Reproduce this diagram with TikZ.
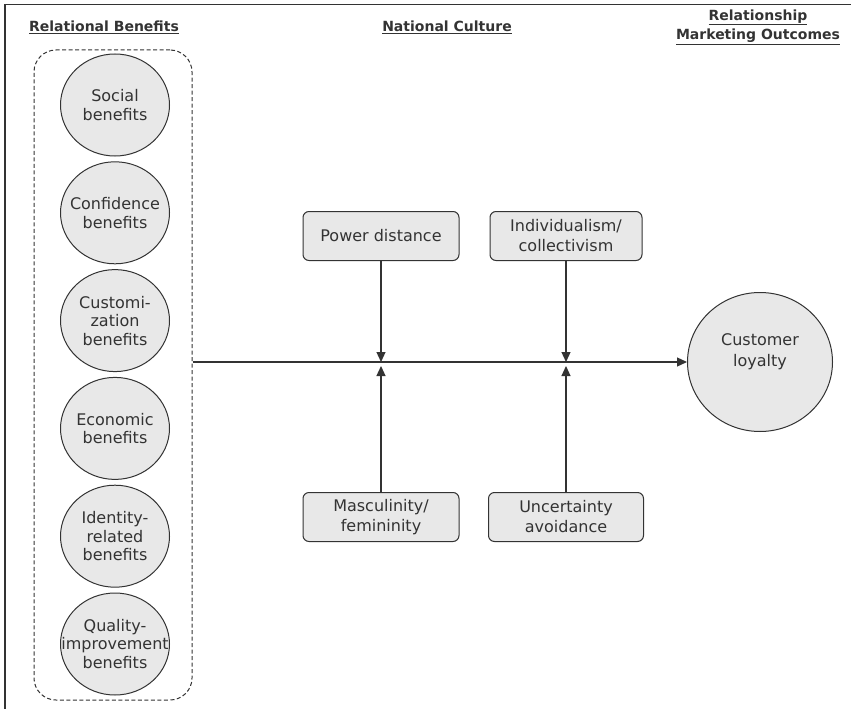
\documentclass[tikz,border=0pt]{standalone}
\usepackage{fontspec}
\setmainfont{DejaVu Sans}
\usetikzlibrary{shapes.geometric,arrows.meta}
\definecolor{boxfill}{HTML}{E8E8E8}
\definecolor{ink}{HTML}{333333}
\begin{document}
\begin{tikzpicture}[x=1pt,y=1pt,>={Triangle[length=10pt,width=9pt]}]
\tikzstyle{benefit}=[draw=ink,line width=1pt,ellipse,fill=boxfill,minimum width=109pt,minimum height=102pt,inner xsep=-22pt,inner ysep=0pt,align=center,text=ink,font=\fontsize{16}{18.5}\selectfont]
\tikzstyle{culture}=[draw=ink,line width=1pt,rounded corners=6pt,fill=boxfill,minimum width=156pt,minimum height=49pt,align=center,text=ink,font=\fontsize{16}{20}\selectfont]
\tikzstyle{head}=[align=center,text=ink,font=\fontsize{14}{19}\selectfont\bfseries]
\tikzstyle{link}=[->,line width=1.2pt,ink]
\def\d{107.8}
\useasboundingbox (0,0) rectangle (851,-709);
\draw[line width=1.5pt,ink] (5,-709) -- (5,-4.5) -- (851,-4.5);
% headings
\draw (104,-27) node[head] (h1) {\underline{Relational Benefits}};
\draw (447,-27) node[head] (h2) {\underline{National Culture}};
\draw (758,-27) node[head] (h3) {\underline{Relationship}\\\underline{Marketing Outcomes}};
% relational benefits
\draw (113,-375) node[draw=ink,line width=1pt,dash pattern=on 4pt off 2.5pt,rounded corners=22pt,minimum width=158pt,minimum height=650pt] (rb) {};
\draw (115,-105-0*\d) node[benefit] (b1) {Social\\benefits};
\draw (115,-105-1*\d) node[benefit] (b2) {Confidence\\benefits};
\draw (115,-105-2*\d) node[benefit] (b3) {Customi-\\zation\\benefits};
\draw (115,-105-3*\d) node[benefit] (b4) {Economic\\benefits};
\draw (115,-105-4*\d) node[benefit] (b5) {Identity-\\related\\benefits};
\draw (115,-105-5*\d) node[benefit] (b6) {Quality-\\improvement\\benefits};
% outcome
\draw (760,-362) node[benefit,minimum width=145pt,minimum height=139pt,font=\fontsize{16}{21}\selectfont] (cl) {Customer\\loyalty\\[2pt]};
% national culture
\draw (381,-236) node[culture] (pd) {Power distance};
\draw (566,-236) node[culture,minimum width=152pt] (ic) {Individualism/\\collectivism};
\draw (381,-517) node[culture] (mf) {Masculinity/\\femininity};
\draw (566,-517) node[culture,minimum width=155pt] (ua) {Uncertainty\\avoidance};
\coordinate (j1) at (pd.south |- cl);
\coordinate (j2) at (ic.south |- cl);
\draw[link] (rb.east |- cl) -- (cl);
\draw[link] (pd) -- (j1);
\draw[link] (ic) -- (j2);
\draw[link,shorten >=4pt] (mf) -- (j1);
\draw[link,shorten >=4pt] (ua) -- (j2);
\end{tikzpicture}
\end{document}
